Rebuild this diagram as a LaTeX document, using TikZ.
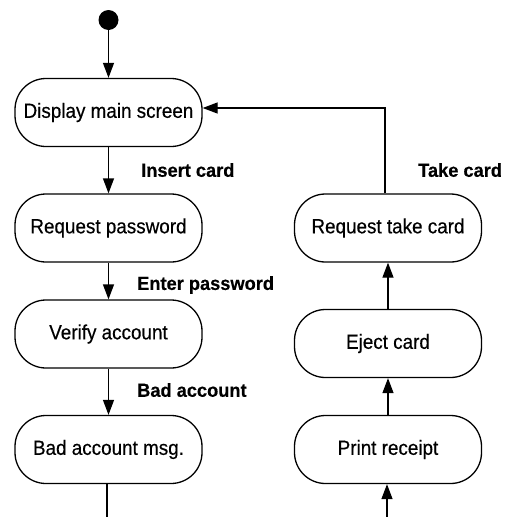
\documentclass[tikz,border=0pt]{standalone}
\usepackage{fontspec}
\setmainfont{Liberation Sans}
\newfontfamily\actfont[FakeStretch=0.92,FakeBold=0.4]{Liberation Sans}
\newfontfamily\guardfont[FakeStretch=0.96,FakeBold=0.3]{Liberation Sans}
\usetikzlibrary{arrows.meta}
\begin{document}
\begin{tikzpicture}[x=1pt,y=-1pt,
  activity/.style={draw, line width=1.3pt, rounded corners=31pt,
    minimum width=187pt, minimum height=68pt, inner sep=0pt,
    font=\actfont\fontsize{20.5}{24}\selectfont},
  flow/.style={line width=1.3pt, -{Triangle[length=15pt,width=11pt]}},
  plainline/.style={line width=1.3pt},
  guard/.style={anchor=west, inner sep=0pt,
    font=\guardfont\bfseries\fontsize{19}{22}\selectfont},
  initial/.style={circle, fill=black, inner sep=0pt, minimum size=20pt},
]
\useasboundingbox (0,0) rectangle (510,517);

% initial state
\node[initial] (start) at (108.5,20) {};

% left column
\node[activity] (dms) at (108.5,112.5) {Display main screen};
\node[activity] (rp)  at (108.5,228)   {Request password};
\node[activity] (va)  at (108.5,334)   {Verify account};
\node[activity] (bam) at (108.5,449.5) {Bad account msg.};

% right column
\node[activity] (rtc) at (388,228)   {Request take card};
\node[activity] (ec)  at (388,343.5) {Eject card};
\node[activity] (pr)  at (388,449.5) {Print receipt};

% transition labels
\node[guard] (lins)  at (141,170) {Insert card};
\node[guard] (lpwd)  at (137,285) {Enter password};
\node[guard] (lbad)  at (137,390) {Bad account};
\node[guard] (ltake) at (418,170) {Take card};

% free ends at the bottom edge
\coordinate (leftexit)   at (107,517);
\coordinate (rightentry) at (387,517);

% transitions
\draw[flow] (start) -- (dms);
\draw[flow] (dms) -- (rp);
\draw[flow] (rp) -- (va);
\draw[flow] (va) -- (bam);
\draw[plainline] (bam.south -| leftexit) -- (leftexit);

\draw[flow] (rightentry) -- (rightentry |- pr.south);
\draw[flow] (pr) -- (ec);
\draw[flow] (ec) -- (rtc);
\draw[flow] ([xshift=-3pt]rtc.north) |- ([yshift=4.5pt]dms.east);
\end{tikzpicture}
\end{document}
